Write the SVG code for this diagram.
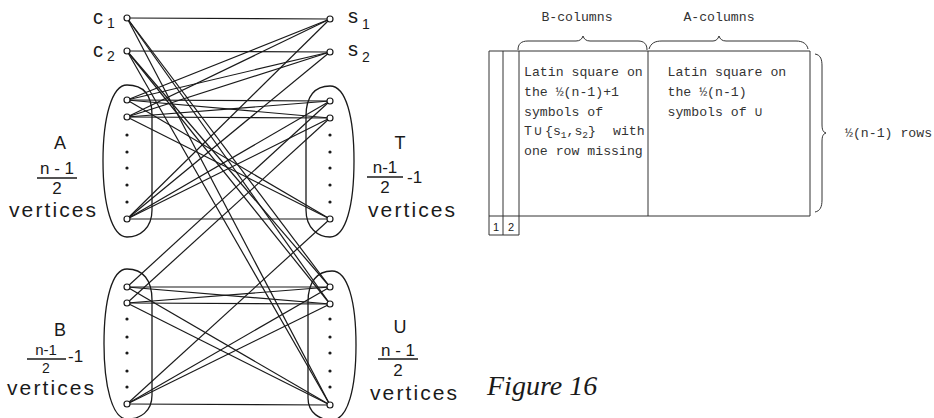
<svg xmlns="http://www.w3.org/2000/svg" width="934" height="418" viewBox="0 0 934 418">
<style>
.e{stroke:#1a1a1a;stroke-width:1.2;fill:none}
.set{stroke:#1a1a1a;stroke-width:1.3;fill:none}
.v{stroke:#1a1a1a;stroke-width:1.2;fill:#fff}
.d{fill:#1a1a1a}
.lb{font-family:"Liberation Sans",Arial,sans-serif;fill:#1a1a1a}
.big{font-size:18px}
.fr{font-size:17px}
.frs{font-size:15px}
.vt{font-size:21px;letter-spacing:2.1px}
.nm{font-size:20px}
.sb{font-size:14px}
.fl{stroke:#1a1a1a;stroke-width:1.3}
.tb{stroke:#333;stroke-width:1;fill:none}
.mono{font-family:"Liberation Mono","Courier New",monospace;font-size:13.2px;fill:#333}
.fig{font-family:"Liberation Serif","Times New Roman",serif;font-style:italic;font-size:28px;fill:#1a1a1a}
</style>
<rect width="934" height="418" fill="#fff"/>
<g id="connectors">
<line class="e" x1="127" y1="18" x2="330" y2="19"/>
<line class="e" x1="127" y1="51" x2="330" y2="52"/>
<line class="e" x1="127" y1="18" x2="330" y2="287"/>
<line class="e" x1="127" y1="18" x2="330" y2="304"/>
<line class="e" x1="127" y1="18" x2="330" y2="405"/>
<line class="e" x1="127" y1="51" x2="330" y2="287"/>
<line class="e" x1="127" y1="51" x2="330" y2="304"/>
<line class="e" x1="127" y1="51" x2="330" y2="405"/>
<line class="e" x1="127" y1="100" x2="330" y2="19"/>
<line class="e" x1="127" y1="100" x2="330" y2="52"/>
<line class="e" x1="127" y1="100" x2="330" y2="101"/>
<line class="e" x1="127" y1="100" x2="330" y2="118"/>
<line class="e" x1="127" y1="100" x2="330" y2="219"/>
<line class="e" x1="127" y1="117" x2="330" y2="19"/>
<line class="e" x1="127" y1="117" x2="330" y2="52"/>
<line class="e" x1="127" y1="117" x2="330" y2="101"/>
<line class="e" x1="127" y1="117" x2="330" y2="118"/>
<line class="e" x1="127" y1="117" x2="330" y2="219"/>
<line class="e" x1="127" y1="219" x2="330" y2="19"/>
<line class="e" x1="127" y1="219" x2="330" y2="52"/>
<line class="e" x1="127" y1="219" x2="330" y2="101"/>
<line class="e" x1="127" y1="219" x2="330" y2="118"/>
<line class="e" x1="127" y1="219" x2="330" y2="219"/>
<line class="e" x1="330" y1="101" x2="127" y2="287"/>
<line class="e" x1="330" y1="118" x2="127" y2="303"/>
<line class="e" x1="330" y1="219" x2="127" y2="404"/>
<line class="e" x1="127" y1="287" x2="330" y2="287"/>
<line class="e" x1="127" y1="287" x2="330" y2="304"/>
<line class="e" x1="127" y1="287" x2="330" y2="405"/>
<line class="e" x1="127" y1="303" x2="330" y2="287"/>
<line class="e" x1="127" y1="303" x2="330" y2="304"/>
<line class="e" x1="127" y1="303" x2="330" y2="405"/>
<line class="e" x1="127" y1="404" x2="330" y2="287"/>
<line class="e" x1="127" y1="404" x2="330" y2="304"/>
<line class="e" x1="127" y1="404" x2="330" y2="405"/>
</g>
<g id="node-c1">
<circle class="v" cx="127" cy="18" r="3"/>
<text class="lb nm" x="93" y="24">c</text><text class="lb sb" x="107" y="28">1</text>
</g>
<g id="node-c2">
<circle class="v" cx="127" cy="51" r="3"/>
<text class="lb nm" x="93" y="57">c</text><text class="lb sb" x="107" y="61">2</text>
</g>
<g id="node-s1">
<circle class="v" cx="330" cy="19" r="3"/>
<text class="lb nm" x="348" y="23">s</text><text class="lb sb" x="362" y="29">1</text>
</g>
<g id="node-s2">
<circle class="v" cx="330" cy="52" r="3"/>
<text class="lb nm" x="348" y="56">s</text><text class="lb sb" x="362" y="62">2</text>
</g>
<g id="set-A">
<path class="set" d="M127,85 C143,85 152,95 152,115 L152,210 C152,228 140,237 127,237 C112,237 103,205 103,161 C103,117 112,85 127,85 Z"/>
<circle class="v" cx="127" cy="100" r="3"/>
<circle class="v" cx="127" cy="117" r="3"/>
<circle class="v" cx="127" cy="219" r="3"/>
<circle class="d" cx="127" cy="135" r="1.6"/><circle class="d" cx="127" cy="152" r="1.6"/><circle class="d" cx="127" cy="168" r="1.6"/><circle class="d" cx="127" cy="185" r="1.6"/><circle class="d" cx="127" cy="202" r="1.6"/>
<text class="lb big" x="60" y="149" text-anchor="middle">A</text>
<text class="lb fr" x="57" y="174" text-anchor="middle">n - 1</text>
<line class="fl" x1="37" y1="178" x2="77" y2="178"/>
<text class="lb fr" x="57" y="194" text-anchor="middle">2</text>
<text class="lb vt" x="9" y="217">vertices</text>
</g>
<g id="set-T">
<path class="set" d="M330,86 C315,86 306,96 306,116 L306,210 C306,228 318,237 330,237 C346,237 354,205 354,161 C354,117 346,86 330,86 Z"/>
<circle class="v" cx="330" cy="101" r="3"/>
<circle class="v" cx="330" cy="118" r="3"/>
<circle class="v" cx="330" cy="219" r="3"/>
<circle class="d" cx="330" cy="135" r="1.6"/><circle class="d" cx="330" cy="152" r="1.6"/><circle class="d" cx="330" cy="168" r="1.6"/><circle class="d" cx="330" cy="185" r="1.6"/><circle class="d" cx="330" cy="202" r="1.6"/>
<text class="lb big" x="400" y="149" text-anchor="middle">T</text>
<text class="lb fr" x="385" y="173" text-anchor="middle">n-1</text>
<line class="fl" x1="367" y1="177" x2="403" y2="177"/>
<text class="lb fr" x="407" y="183">-1</text>
<text class="lb fr" x="385" y="193" text-anchor="middle">2</text>
<text class="lb vt" x="368" y="217">vertices</text>
</g>
<g id="set-B">
<path class="set" d="M127,269 C143,269 152,280 152,300 L152,395 C152,412 140,419 127,419 C112,419 104,385 104,344 C104,300 112,269 127,269 Z"/>
<circle class="v" cx="127" cy="287" r="3"/>
<circle class="v" cx="127" cy="303" r="3"/>
<circle class="v" cx="127" cy="404" r="3"/>
<circle class="d" cx="127" cy="319" r="1.6"/><circle class="d" cx="127" cy="337" r="1.6"/><circle class="d" cx="127" cy="353" r="1.6"/><circle class="d" cx="127" cy="371" r="1.6"/><circle class="d" cx="127" cy="387" r="1.6"/>
<text class="lb big" x="60" y="336" text-anchor="middle">B</text>
<text class="lb frs" x="46" y="355" text-anchor="middle">n-1</text>
<line class="fl" x1="27" y1="359" x2="66" y2="359"/>
<text class="lb fr" x="68" y="362">-1</text>
<text class="lb" font-size="14" x="46" y="373" text-anchor="middle">2</text>
<text class="lb vt" x="7" y="395">vertices</text>
</g>
<g id="set-U">
<path class="set" d="M332,271 C317,271 308,282 308,302 L308,398 C308,413 320,420 332,420 C348,420 356,388 356,345 C356,302 348,271 332,271 Z"/>
<circle class="v" cx="330" cy="287" r="3"/>
<circle class="v" cx="330" cy="304" r="3"/>
<circle class="v" cx="330" cy="405" r="3"/>
<circle class="d" cx="330" cy="319" r="1.6"/><circle class="d" cx="330" cy="337" r="1.6"/><circle class="d" cx="330" cy="353" r="1.6"/><circle class="d" cx="330" cy="371" r="1.6"/><circle class="d" cx="330" cy="387" r="1.6"/>
<text class="lb big" x="400" y="333" text-anchor="middle">U</text>
<text class="lb fr" x="398" y="356" text-anchor="middle">n - 1</text>
<line class="fl" x1="378" y1="359" x2="418" y2="359"/>
<text class="lb fr" x="398" y="376" text-anchor="middle">2</text>
<text class="lb vt" x="370" y="400">vertices</text>
</g>
<g id="array">
<line class="tb" x1="489" y1="51" x2="810" y2="51"/>
<line class="tb" x1="489" y1="216" x2="810" y2="216"/>
<line class="tb" x1="489" y1="235" x2="519" y2="235"/>
<line class="tb" x1="489" y1="51" x2="489" y2="235"/>
<line class="tb" x1="503" y1="51" x2="503" y2="235"/>
<line class="tb" x1="519" y1="51" x2="519" y2="235"/>
<line class="tb" x1="648" y1="51" x2="648" y2="216"/>
<line class="tb" x1="810" y1="51" x2="810" y2="216"/>
<text class="lb" x="496" y="231" font-size="11" text-anchor="middle">1</text>
<text class="lb" x="511" y="231" font-size="11" text-anchor="middle">2</text>
<path class="tb" d="M518,50 C518,44 521,41 528,41 L576,41 C580,41 582,39 583,36 C584,39 586,41 590,41 L638,41 C644,41 647,44 647,50"/>
<path class="tb" d="M649,49 C651,43 655,41 662,41 L713,41 C716,41 718,39 719,36 C720,39 722,41 726,41 L796,41 C803,41 807,44 808,49"/>
<path class="tb" d="M815,54 C821,55 822,60 822,66 L822,124 C822,130 823,132 826,133 C823,134 822,136 822,142 L822,200 C822,207 820,211 815,212"/>
<text class="mono" x="577" y="21" text-anchor="middle">B-columns</text>
<text class="mono" x="719" y="21" text-anchor="middle">A-columns</text>
<text class="mono" x="524" y="76">Latin square on</text>
<text class="mono" x="524" y="96">the ½(n-1)+1</text>
<text class="mono" x="524" y="115.5">symbols of</text>
<text class="mono" x="524" y="135">T<tspan x="534">∪</tspan><tspan x="545">{s</tspan><tspan font-size="9.5" dy="3">1</tspan><tspan dy="-3">,s</tspan><tspan font-size="9.5" dy="3">2</tspan><tspan dy="-3">}</tspan><tspan x="613">with</tspan></text>
<text class="mono" x="524" y="155">one row missing</text>
<text class="mono" x="667.5" y="76">Latin square on</text>
<text class="mono" x="667.5" y="96">the ½(n-1)</text>
<text class="mono" x="667.5" y="115.5">symbols of ∪</text>
<text class="mono" x="845" y="137">½(n-1) rows</text>
</g>
<text class="fig" x="487" y="395">Figure 16</text>
</svg>
